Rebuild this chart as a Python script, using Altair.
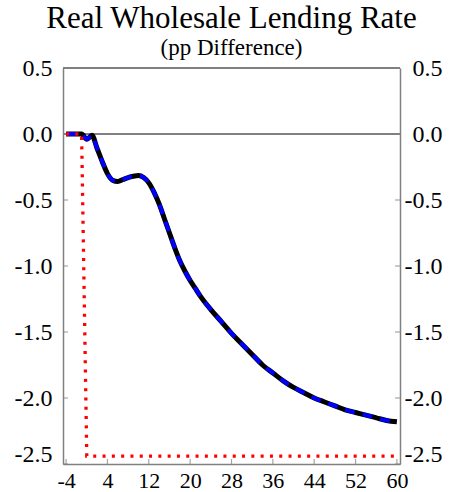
import altair as alt
import pandas as pd

# ---- data ----
quarters = [-4, -3, -2, -1, 0, 1, 2, 3, 4, 5, 6, 7, 8, 9, 10, 11, 12, 13, 14, 15,
            16, 17, 18, 19, 20, 21, 22, 24, 26, 28, 30, 32, 34, 36, 38, 40, 42, 44,
            46, 48, 50, 52, 54, 56, 58, 60]
rate_diff = [0.0, 0.0, 0.0, 0.0, -0.04, -0.01, -0.11, -0.21, -0.30, -0.35, -0.36,
             -0.345, -0.33, -0.32, -0.315, -0.33, -0.37, -0.44, -0.53, -0.64,
             -0.75, -0.86, -0.96, -1.04, -1.11, -1.17, -1.23, -1.33, -1.42, -1.51,
             -1.59, -1.67, -1.75, -1.81, -1.87, -1.92, -1.96, -2.00, -2.03,
             -2.06, -2.09, -2.11, -2.13, -2.15, -2.17, -2.18]
red_quarters = [-4, -1, 0, 60]
red_values = [0.0, 0.0, -2.44, -2.44]

x_ticks = [-4, 4, 12, 20, 28, 36, 44, 52, 60]
y_ticks = [-2.5, -2.0, -1.5, -1.0, -0.5, 0.0, 0.5]
x_domain = [-4.6, 60.6]
y_domain = [-2.5, 0.5]

main_df = pd.DataFrame({"q": quarters, "v": rate_diff})
red_df = pd.DataFrame({"q": red_quarters, "v": red_values})
xt_df = pd.DataFrame({"q": x_ticks})
yt_df = pd.DataFrame({"v": y_ticks})

FONT = "Liberation Serif"
GRAY = "#808080"

xscale = alt.Scale(domain=x_domain, nice=False, zero=False)
yscale = alt.Scale(domain=y_domain, nice=False, zero=False)

y_label_expr = "(datum.value < 0 ? '-' : '') + format(abs(datum.value), '.1f')"
bottom_shift = {"condition": {"test": "datum.value <= -2.49", "value": -10}, "value": 0}

x_axis = alt.Axis(values=x_ticks, domain=True, domainColor=GRAY, domainWidth=1.5,
                  ticks=False, tickSize=0, grid=False,
                  labelFont=FONT, labelFontSize=22, labelColor="black",
                  labelPadding=6, title=None,
                  labelExpr="(datum.value < 0 ? '-' : '') + format(abs(datum.value), 'd')")
y_axis_left = alt.Axis(orient="left", values=y_ticks, domain=True, domainColor=GRAY,
                       domainWidth=1.5, ticks=False, tickSize=0,
                       grid=False, labelFont=FONT, labelFontSize=24, labelColor="black",
                       labelPadding=11, title=None, labelExpr=y_label_expr,
                       labelOffset=bottom_shift)
y_axis_right = alt.Axis(orient="right", values=y_ticks, domain=True, domainColor=GRAY,
                        domainWidth=1.5, ticks=False, tickSize=0,
                        grid=False, labelFont=FONT, labelFontSize=24, labelColor="black",
                        labelAlign="right", labelPadding=42, title=None,
                        labelExpr=y_label_expr, labelOffset=bottom_shift)

zero = alt.Chart(main_df).mark_rule(color=GRAY, strokeWidth=1.5).encode(
    y=alt.datum(0, scale=yscale, axis=y_axis_right)
)
top = alt.Chart(main_df).mark_rule(color=GRAY, strokeWidth=1.5).encode(
    y=alt.datum(y_domain[1], scale=yscale, axis=None)
)

black = alt.Chart(main_df).mark_line(color="black", strokeWidth=5, interpolate="monotone").encode(
    x=alt.X("q:Q", scale=xscale, axis=x_axis),
    y=alt.Y("v:Q", scale=yscale, axis=y_axis_left),
)
blue = alt.Chart(main_df).mark_line(color="#0000ff", strokeWidth=4, strokeDash=[10, 8],
                                    interpolate="monotone").encode(
    x=alt.X("q:Q", scale=xscale, axis=x_axis),
    y=alt.Y("v:Q", scale=yscale, axis=None),
)
red = alt.Chart(red_df).mark_line(color="#ff0000", strokeWidth=3.3, strokeDash=[3, 6.3]).encode(
    x=alt.X("q:Q", scale=xscale, axis=x_axis),
    y=alt.Y("v:Q", scale=yscale, axis=None),
)

xticks = alt.Chart(xt_df).mark_tick(orient="vertical", size=5, thickness=1.2, color=GRAY,
                                    yOffset=-2.5).encode(
    x=alt.X("q:Q", scale=xscale, axis=x_axis),
    y=alt.datum(y_domain[0], scale=yscale, axis=None),
)
lticks = alt.Chart(yt_df).mark_tick(orient="horizontal", size=5, thickness=1.2, color=GRAY,
                                    xOffset=2.5).encode(
    x=alt.datum(x_domain[0], scale=xscale, axis=x_axis),
    y=alt.Y("v:Q", scale=yscale, axis=None),
)
rticks = alt.Chart(yt_df).mark_tick(orient="horizontal", size=5, thickness=1.2, color=GRAY,
                                    xOffset=-2.5).encode(
    x=alt.datum(x_domain[1], scale=xscale, axis=x_axis),
    y=alt.Y("v:Q", scale=yscale, axis=None),
)

chart = alt.layer(zero, top, xticks, lticks, rticks, black, blue, red).resolve_axis(
    y="independent"
).properties(
    width=337,
    height=396,
    autosize=alt.AutoSizeParams(type="none"),
    padding={"left": 63, "top": 68, "right": 52, "bottom": 28},
    title=alt.TitleParams(
        text="Real Wholesale Lending Rate",
        subtitle="(pp Difference)",
        font=FONT, fontSize=31, fontWeight="normal", color="black",
        subtitleFont=FONT, subtitleFontSize=23, subtitleColor="black",
        subtitlePadding=2, anchor="middle", offset=-5,
    ),
).configure_view(stroke=GRAY, strokeWidth=1.5).configure(background="white")

chart.save("out.html", embed_options={"renderer": "svg", "actions": False})
